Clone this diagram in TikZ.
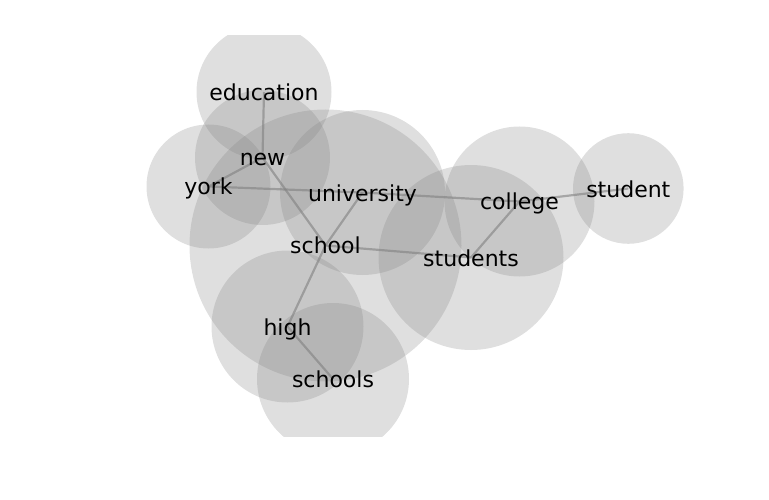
\documentclass[tikz,border=0pt]{standalone}
\usepackage{fontspec}
\setmainfont{DejaVu Sans}
\begin{document}
\begin{tikzpicture}[x=1pt, y=-1pt,
    bubble/.style={fill=gray, fill opacity=0.25},
    link/.style={draw=gray, opacity=0.6, line width=2.2pt},
    word/.style={font=\fontsize{22}{26}\selectfont, text height=21pt, text depth=4pt, inner sep=0pt}]
    \useasboundingbox (0,0) rectangle (769,500);

    \coordinate (education) at (264,92);
    \coordinate (new) at (262.5,157.5);
    \coordinate (york) at (208.5,186.5);
    \coordinate (university) at (362.5,192.5);
    \coordinate (school) at (325.5,245.5);
    \coordinate (college) at (519.5,201.5);
    \coordinate (student) at (628.3,188.5);
    \coordinate (students) at (471,257.5);
    \coordinate (high) at (287.5,326.5);
    \coordinate (schools) at (333,379);

    % circles are cut at the top and bottom of the plot
    \begin{scope}
        \clip (0,36) rectangle (769,436);
        \fill[bubble] (education) circle (67.5);
        \fill[bubble] (new) circle (67.5);
        \fill[bubble] (york) circle (62);
        \fill[bubble] (university) circle (82.5);
        \fill[bubble] (school) circle (136);
        \fill[bubble] (college) circle (75);
        \fill[bubble] (student) circle (55.3);
        \fill[bubble] (students) circle (92.5);
        \fill[bubble] (high) circle (76);
        \fill[bubble] (schools) circle (76);
    \end{scope}

    \draw[link] (education) -- (new);
    \draw[link] (new) -- (york);
    \draw[link] (new) -- (school);
    \draw[link] (york) -- (university);
    \draw[link] (university) -- (college);
    \draw[link] (university) -- (school);
    \draw[link] (school) -- (students);
    \draw[link] (school) -- (high);
    \draw[link] (high) -- (schools);
    \draw[link] (college) -- (students);
    \draw[link] (college) -- (student);

    \node[word] (education-l) at (education) {education};
    \node[word] (new-l) at (new) {new};
    \node[word] (york-l) at (york) {york};
    \node[word] (university-l) at (university) {university};
    \node[word] (school-l) at (school) {school};
    \node[word] (college-l) at (college) {college};
    \node[word] (student-l) at (student) {student};
    \node[word] (students-l) at (students) {students};
    \node[word] (high-l) at (high) {high};
    \node[word] (schools-l) at (schools) {schools};
\end{tikzpicture}
\end{document}
